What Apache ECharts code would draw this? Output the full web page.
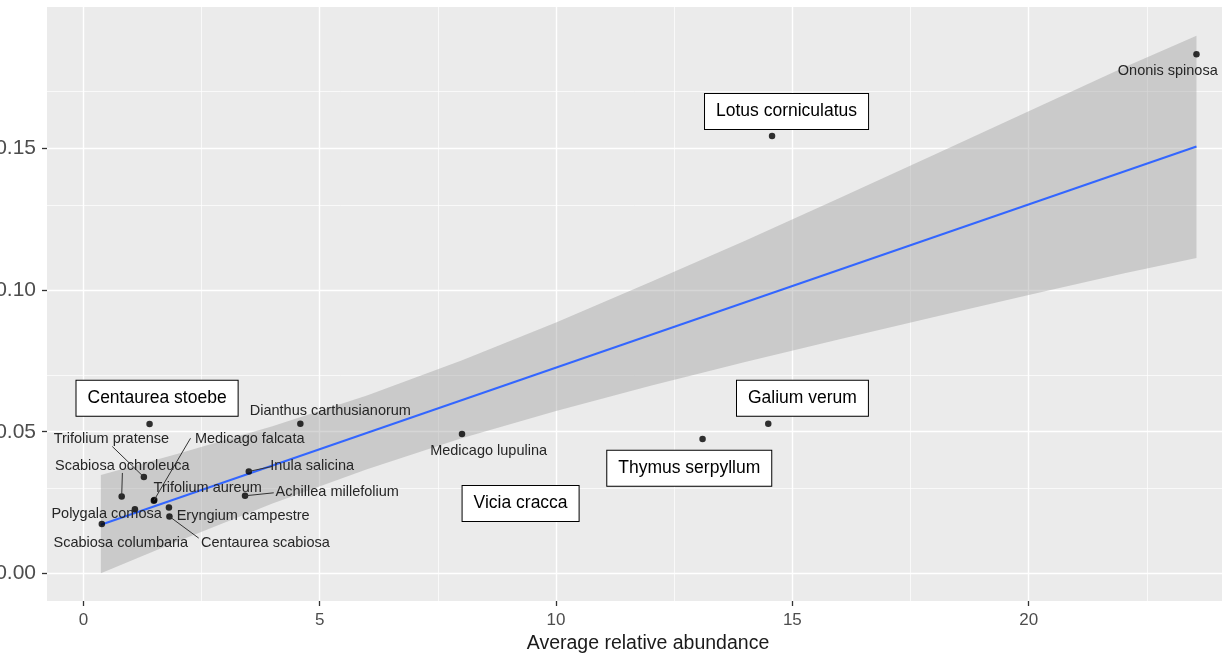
<!DOCTYPE html>
<html><head><meta charset="utf-8">
<script src="https://cdn.jsdelivr.net/npm/echarts@6/dist/echarts.min.js"></script>
<style>html,body{margin:0;padding:0;background:#fff}#c{width:1225px;height:655px}</style>
</head><body><div id="c"></div>
<script>
// ---- data ----
const species = ['Ononis spinosa','Lotus corniculatus','Galium verum','Thymus serpyllum','Medicago lupulina',
  'Dianthus carthusianorum','Centaurea stoebe','Trifolium pratense','Scabiosa ochroleuca','Medicago falcata',
  'Trifolium aureum','Polygala comosa','Eryngium campestre','Centaurea scabiosa','Scabiosa columbaria',
  'Inula salicina','Achillea millefolium','Vicia cracca'];
const abundance = [23.55,14.57,14.49,13.10,8.01,4.59,1.40,1.28,0.81,1.49,1.50,1.09,1.81,1.82,0.39,3.50,3.42,9.25];
const effect    = [0.1831,0.1543,0.0528,0.0474,0.0492,0.0528,0.0527,0.0340,0.0272,0.0257,0.0259,0.0227,0.0233,0.0201,0.0175,0.0360,0.0274,0.0249];
const boxedSpecies = ['Lotus corniculatus','Galium verum','Thymus serpyllum','Centaurea stoebe','Vicia cracca'];

const fitX = [0.37, 23.55];
const fitY = [0.0172, 0.1506];
const bandX     = [0.37, 2, 4, 6, 8, 10, 12, 14, 16, 18, 20, 22, 23.55];
const bandUpper = [0.0347,0.0422,0.0519,0.0628,0.0751,0.0885,0.1028,0.1174,0.1324,0.1477,0.1630,0.1784,0.1897];
const bandLower = [0.0001,0.0114,0.0247,0.0368,0.0477,0.0573,0.0662,0.0746,0.0826,0.0905,0.0982,0.1058,0.1113];

const xTicks = [0,5,10,15,20];
const xMinor = [2.5,7.5,12.5,17.5,22.5];
const yTicks = [0,0.05,0.10,0.15];
const yMinor = [0.025,0.075,0.125,0.175];
const xTitle = 'Average relative abundance';

// ---- label layout (pixel offsets from each point) ----
const labelLayout = {
  'Ononis spinosa':{dx:-28.7,dy:16.4},
  'Lotus corniculatus':{dx:14.5,dy:-24.5},
  'Galium verum':{dx:34.2,dy:-25.5},
  'Thymus serpyllum':{dx:-13.3,dy:29.2},
  'Medicago lupulina':{dx:26.6,dy:17.4},
  'Dianthus carthusianorum':{dx:30,dy:-12.5},
  'Centaurea stoebe':{dx:7.5,dy:-25.8},
  'Trifolium pratense':{dx:-32.5,dy:-38,seg:[-31.6,-30.6]},
  'Scabiosa ochroleuca':{dx:0.7,dy:-30.7,seg:[0.7,-23.4]},
  'Medicago falcata':{dx:95.9,dy:-61.4,seg:[36.7,-62.4]},
  'Trifolium aureum':{dx:53.4,dy:-11.9},
  'Polygala comosa':{dx:-28.3,dy:4.7},
  'Eryngium campestre':{dx:74.2,dy:9},
  'Centaurea scabiosa':{dx:96,dy:26.6,seg:[29.3,21.6]},
  'Scabiosa columbaria':{dx:19,dy:18.7},
  'Inula salicina':{dx:63.4,dy:-5.7,seg:[23.4,-5]},
  'Achillea millefolium':{dx:92.2,dy:-4,seg:[28.7,-3]},
  'Vicia cracca':{dx:0,dy:0.5}
};

const FONT = '"Liberation Sans", Arial, sans-serif';
const chart = echarts.init(document.getElementById('c'), null, {renderer:'canvas'});

const gridLines = [];
xTicks.forEach(v => gridLines.push({xAxis:v, lineStyle:{color:'#ffffff', width:1.4, type:'solid'}}));
xMinor.forEach(v => gridLines.push({xAxis:v, lineStyle:{color:'#ffffff', width:0.7, type:'solid'}}));
yTicks.forEach(v => gridLines.push({yAxis:v, lineStyle:{color:'#ffffff', width:1.4, type:'solid'}}));
yMinor.forEach(v => gridLines.push({yAxis:v, lineStyle:{color:'#ffffff', width:0.7, type:'solid'}}));

const pts = species.map((s,i)=>[abundance[i], effect[i]]);

chart.setOption({
  animation:false,
  backgroundColor:'#ffffff',
  grid:{left:47, right:3, top:7, bottom:54, show:true, backgroundColor:'#EBEBEB', borderWidth:0,
    containLabel:false, outerBoundsMode:'none'},
  xAxis:{type:'value', min:-0.77, max:24.09,
    axisLine:{show:true, onZero:false, lineStyle:{color:'rgba(0,0,0,0)', width:0}}, splitLine:{show:false},
    axisTick:{show:true, inside:false, customValues:xTicks, length:5, lineStyle:{color:'#333333', width:1.3}},
    axisLabel:{show:true, customValues:xTicks, color:'#4D4D4D', fontSize:17, fontFamily:FONT, margin:11},
    name:xTitle, nameLocation:'middle', nameGap:31,
    nameTextStyle:{color:'#1a1a1a', fontSize:19.5, fontFamily:FONT, padding:[0,0,0,27]}
  },
  yAxis:{type:'value', min:-0.0097, max:0.1998,
    axisLine:{show:true, onZero:false, lineStyle:{color:'rgba(0,0,0,0)', width:0}}, splitLine:{show:false},
    axisTick:{show:true, inside:false, customValues:yTicks, length:5, lineStyle:{color:'#333333', width:1.3}},
    axisLabel:{show:true, customValues:yTicks, color:'#4D4D4D', fontSize:21, fontFamily:FONT, margin:11,
      formatter:v=>v.toFixed(2)}
  },
  series:[
    {type:'custom', name:'band', z:2, silent:true, clip:true,
      data:[[bandX[0], bandUpper[0]]],
      renderItem:(params, api)=>{
        const poly = [];
        bandX.forEach((x,i)=>poly.push(api.coord([x, bandUpper[i]])));
        for (let i=bandX.length-1;i>=0;i--) poly.push(api.coord([bandX[i], bandLower[i]]));
        return {type:'polygon', shape:{points:poly}, style:{fill:'rgba(153,153,153,0.4)', stroke:null}};
      }
    },
    {type:'line', name:'fit', z:3, silent:true, showSymbol:false,
      data:fitX.map((x,i)=>[x, fitY[i]]),
      lineStyle:{color:'#3366FF', width:2},
      markLine:{silent:true, symbol:['none','none'], z:1, label:{show:false}, animation:false,
        emphasis:{disabled:true}, data:gridLines}
    },
    {type:'scatter', name:'species', z:4, symbol:'circle', symbolSize:6.5,
      itemStyle:{color:'#000000'}, data:pts},
    {type:'custom', name:'labels', z:5, silent:true, clip:false, data:pts,
      renderItem:(params, api)=>{
        const i = params.dataIndex;
        const name = species[i];
        const p = api.coord([api.value(0), api.value(1)]);
        const L = labelLayout[name];
        const children = [];
        if (L.seg) children.push({type:'line', shape:{x1:p[0], y1:p[1], x2:p[0]+L.seg[0], y2:p[1]+L.seg[1]},
          style:{stroke:'#333333', lineWidth:1}});
        const box = boxedSpecies.indexOf(name) >= 0;
        const st = {text:name, x:p[0]+L.dx, y:p[1]+L.dy, align:'center', verticalAlign:'middle',
          fontFamily:FONT, fontSize: box?17.5:14.5, fill: box?'#000000':'#262626', lineHeight: box?19:16};
        if (box) Object.assign(st, {backgroundColor:'#ffffff', borderColor:'#000000', borderWidth:1, padding:[8,11]});
        children.push({type:'text', style:st});
        return {type:'group', children};
      }
    }
  ]
});
</script></body></html>
